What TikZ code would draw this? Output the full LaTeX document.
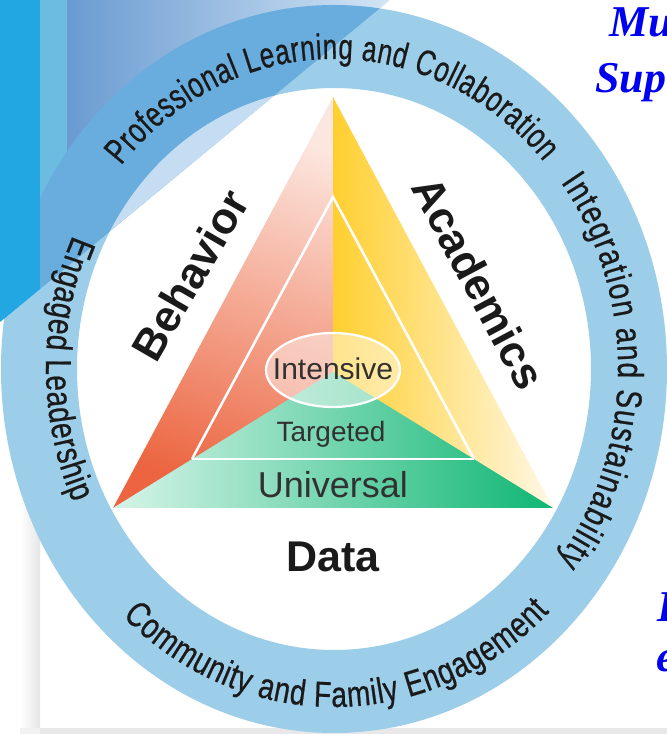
\documentclass[tikz,border=0pt]{standalone}
\usepackage{fontspec}
\setmainfont{Liberation Sans}
\newfontfamily\narrowfont{Liberation Sans}[FakeStretch=0.72,FakeBold=0.6]
\newfontfamily\semifont{Liberation Sans}[FakeStretch=0.78,FakeBold=0.6]
\newfontfamily\titlefont{Liberation Serif}
\usetikzlibrary{decorations.text,calc}
\definecolor{ringblue}{HTML}{9CCDE9}
\definecolor{ringdark}{HTML}{68ADDD}
\definecolor{innerblue}{HTML}{C4DDF2}
\definecolor{ovl}{HTML}{6497CF}
\definecolor{ovr}{HTML}{D3E5F5}
\definecolor{stripblue}{HTML}{6CBCE1}
\definecolor{vivid}{HTML}{22A7E2}
\definecolor{redlight}{HTML}{FCE7E0}
\definecolor{reddark}{HTML}{EC6540}
\definecolor{yelsat}{HTML}{FFCF30}
\definecolor{yellight}{HTML}{FFF8E6}
\definecolor{grnlight}{HTML}{D6F4E9}
\definecolor{grndark}{HTML}{10B674}
\definecolor{inktext}{HTML}{1A1A1A}
\definecolor{titleblue}{HTML}{0000F0}
\newcommand{\ringfontA}{\narrowfont\fontsize{36}{36}\selectfont}
\newcommand{\ringfontB}{\semifont\fontsize{36}{36}\selectfont}
\tikzset{
  ringtext/.style={decorate, decoration={text along path, text align={fit to path}, text={|\ringfontB\color{inktext}|#1}}},
  ringtexttop/.style={decorate, decoration={text along path, text align={fit to path}, text={|\ringfontA\color{inktext}|#1}}},
  bigword/.style={font=\bfseries\fontsize{44}{44}\selectfont, text=inktext, inner sep=0pt},
  tierword/.style={text=inktext!90, inner sep=0pt, anchor=base},
  titleword/.style={font=\titlefont\bfseries\itshape\fontsize{44}{44}\selectfont, text=titleblue, inner sep=0pt, anchor=base west}
}
\begin{document}
\begin{tikzpicture}[x=1pt,y=1pt]
\useasboundingbox (0,0) rectangle (667,734);
\clip (0,0) rectangle (667,734);
\fill[white] (0,0) rectangle (667,734);
% card shadow
\shade[left color=white, right color=black!10] (20,0) rectangle (40,734);
\fill[black!9] (40,0) rectangle (667,6);
\fill[black!5] (20,0) rectangle (40,6);
% ring
\coordinate (C) at (334,365);
\fill[ringblue, even odd rule] (C) ellipse [x radius=333, y radius=364] (C) ellipse [x radius=257, y radius=281];
% top-left overlay
\begin{scope}
  \clip (0,734) -- (390,734) -- (0,412) -- cycle;
  \shade[left color=ovl, right color=ovr] (50,400) rectangle (390,734);
  \fill[stripblue] (40,400) rectangle (67,734);
  \fill[ringdark, even odd rule] (C) ellipse [x radius=333, y radius=364] (C) ellipse [x radius=257, y radius=281];
  \fill[innerblue] (C) ellipse [x radius=257, y radius=281];
  \fill[vivid] (0,400) rectangle (40,734);
\end{scope}
% triangle halves
\coordinate (A) at (333,637);
\coordinate (BL) at (113,226);
\coordinate (BR) at (553,226);
\coordinate (BM) at (333,226);
\shade[top color=redlight, bottom color=reddark, shading angle=-20] (A) -- (BL) -- (BM) -- cycle;
\shade[left color=yelsat, right color=yellight] (A) -- (BM) -- (BR) -- cycle;
% green tiers
\coordinate (G) at (333,362);
\shade[left color=grnlight, right color=grndark] (BL) -- (G) -- (BR) -- cycle;
% inner white lines
\coordinate (IA) at (333,537);
\coordinate (IL) at (192,275);
\coordinate (IR) at (474,275);
\draw[white, line width=2.5pt] (IL) -- (IA) -- (IR);
\draw[white, line width=2.5pt] (IL) -- (IR);
% intensive ellipse
\fill[white, fill opacity=0.45] (333,364) ellipse [x radius=67, y radius=37];
\draw[white, line width=2.2pt] (333,364) ellipse [x radius=67, y radius=37];
% tier texts
\node[tierword, font=\fontsize{30}{30}\selectfont] (int) at (333,354) {Intensive};
\node[tierword, font=\fontsize{28}{28}\selectfont] (tar) at (331,292) {Targeted};
\node[tierword, font=\fontsize{36}{36}\selectfont] (uni) at (333,236) {Universal};
% big words
\node[bigword, font=\bfseries\fontsize{43}{43}\selectfont, anchor=base] (data) at (333,162) {Data};
\node[bigword, rotate=60] (beh) at (190,459) {Behavior};
\node[bigword, rotate=-62] (aca) at (479,451) {Academics};
% ring texts
\path[ringtexttop={Professional Learning and Collaboration}] ($(C)+(139:282 and 310)$) arc[start angle=139, end angle=42, x radius=282, y radius=310];
\path[ringtext={Integration and Sustainability}] ($(C)+(37:284 and 310)$) arc[start angle=37, end angle=-38, x radius=284, y radius=310];
\path[ringtext={Engaged Leadership}] ($(C)+(155:288 and 316)$) arc[start angle=155, end angle=205, x radius=288, y radius=316];
\path[ringtext={Community and Family Engagement}] ($(C)+(227:310 and 338)$) arc[start angle=227, end angle=314, x radius=310, y radius=338];
% cropped title text
\node[titleword] (t1) at (609,697) {Mu};
\node[titleword] (t2) at (595,641) {Sup};
\node[titleword] (t3) at (657,112) {I};
\node[titleword] (t4) at (656,62) {e};
\end{tikzpicture}
\end{document}
